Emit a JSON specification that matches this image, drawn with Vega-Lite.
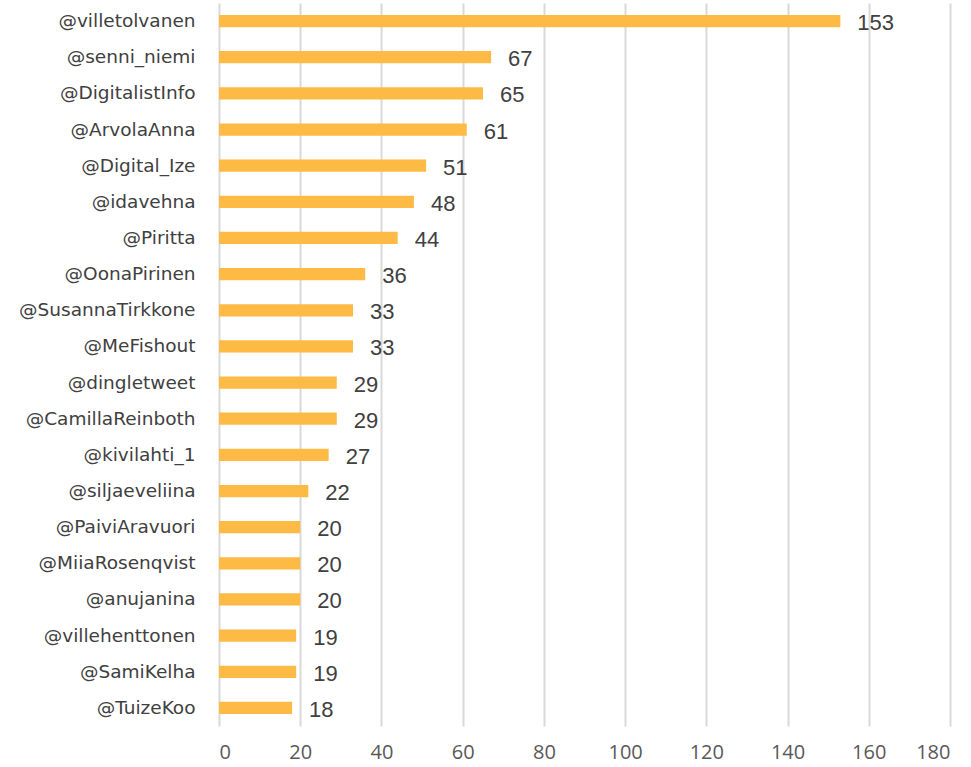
{
  "$schema": "https://vega.github.io/schema/vega-lite/v6.json",
  "autosize": {"type": "none"},
  "width": 731,
  "height": 723,
  "padding": {"left": 219, "top": 3, "right": 21, "bottom": 41},
  "background": "white",
  "config": {"view": {"stroke": null}},
  "data": {"values": [
    {"user": "@villetolvanen", "count": 153},
    {"user": "@senni_niemi", "count": 67},
    {"user": "@DigitalistInfo", "count": 65},
    {"user": "@ArvolaAnna", "count": 61},
    {"user": "@Digital_Ize", "count": 51},
    {"user": "@idavehna", "count": 48},
    {"user": "@Piritta", "count": 44},
    {"user": "@OonaPirinen", "count": 36},
    {"user": "@SusannaTirkkone", "count": 33},
    {"user": "@MeFishout", "count": 33},
    {"user": "@dingletweet", "count": 29},
    {"user": "@CamillaReinboth", "count": 29},
    {"user": "@kivilahti_1", "count": 27},
    {"user": "@siljaeveliina", "count": 22},
    {"user": "@PaiviAravuori", "count": 20},
    {"user": "@MiiaRosenqvist", "count": 20},
    {"user": "@anujanina", "count": 20},
    {"user": "@villehenttonen", "count": 19},
    {"user": "@SamiKelha", "count": 19},
    {"user": "@TuizeKoo", "count": 18}
  ]},
  "encoding": {
    "y": {
      "field": "user", "type": "nominal", "sort": null,
      "scale": {"paddingInner": 0.66, "paddingOuter": 0.33},
      "axis": {"title": null, "domain": false, "ticks": false, "grid": false,
        "labelPadding": 24, "labelFont": "DejaVu Sans", "labelFontSize": 18.5,
        "labelColor": "#404040", "labelLimit": 300}
    },
    "x": {
      "field": "count", "type": "quantitative",
      "scale": {"domain": [0, 180], "nice": false},
      "axis": {"title": null, "domain": false, "ticks": false, "values": [0,20,40,60,80,100,120,140,160,180],
        "grid": true, "gridColor": "#d9d9d9", "gridWidth": 2,
        "labelPadding": 16, "labelFont": "Open Sans", "labelFontSize": 20,
        "labelColor": "#595959"}
    }
  },
  "layer": [
    {"mark": {"type": "bar", "color": "#FDBA45"}},
    {"mark": {"type": "text", "align": "left", "baseline": "middle", "dx": 17, "dy": 2,
      "font": "Liberation Sans", "fontSize": 22, "color": "#404040"},
     "encoding": {"text": {"field": "count", "type": "quantitative"}}}
  ]
}
